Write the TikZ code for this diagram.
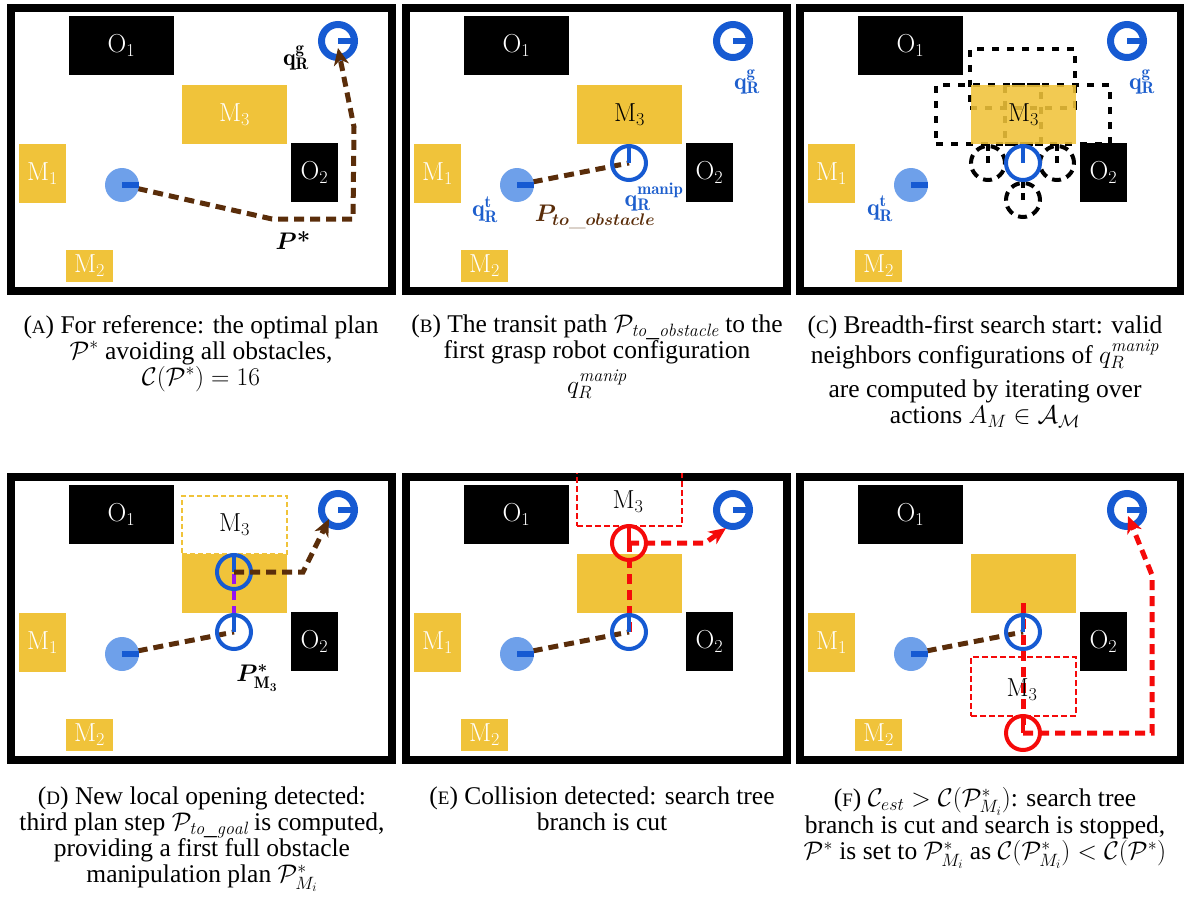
\RequirePackage{fix-cm}
\documentclass[tikz,border=0pt]{standalone}
\usepackage{fontspec}
\newfontfamily\capserif{Liberation Serif}
\usepackage{tikz}
\usetikzlibrary{arrows.meta}

\definecolor{myyellow}{RGB}{240,195,58}
\definecolor{robotblue}{RGB}{22,90,210}
\definecolor{startblue}{RGB}{110,160,234}
\definecolor{pathbrown}{RGB}{90,45,10}
\definecolor{labelblue}{RGB}{30,95,205}
\definecolor{mypurple}{RGB}{150,20,240}
\definecolor{myred}{RGB}{245,10,10}

\newcommand\capfont{\capserif\fontsize{25.5}{26}\selectfont}
\newcommand\capsc[1]{{\fontsize{19}{19}\selectfont #1}}
\newcommand\boxfont{\fontsize{26}{26}\selectfont}

\tikzset{
  panelframe/.style={draw=black, line width=8pt},
  boxbase/.style={inner sep=0pt, minimum height=59pt, font=\boxfont},
  obox/.style={boxbase, fill=black, text=white, minimum width=105pt},
  ybox/.style={boxbase, fill=myyellow, text=white},
  goalc/.style={circle, draw=robotblue, line width=7pt, minimum size=33pt, inner sep=0pt},
  robotc/.style={circle, draw=robotblue, line width=4pt, minimum size=34pt, inner sep=0pt},
  redc/.style={robotc, draw=myred},
  startc/.style={circle, fill=startblue, minimum size=34pt, inner sep=0pt},
  gbar/.style={draw=robotblue, line width=6pt},
  rbar/.style={draw=robotblue, line width=4pt},
  redbar/.style={draw=myred, line width=4pt},
  sbar/.style={draw=robotblue, line width=6pt},
  bpath/.style={draw=pathbrown, line width=5pt, dash pattern=on 10pt off 6pt},
  rpath/.style={draw=myred, line width=5pt, dash pattern=on 10pt off 6pt},
  ppath/.style={draw=mypurple, line width=4pt, dash pattern=on 10pt off 6pt},
  arrtip/.style={-{Stealth[length=17pt,width=15pt,inset=5pt]}},
  nbox/.style={draw=black, line width=4pt, dash pattern=on 7pt off 8pt, minimum width=105pt, minimum height=59pt, inner sep=0pt},
  ncirc/.style={circle, draw=black, line width=4pt, dash pattern=on 9pt off 6pt, minimum size=34pt, inner sep=0pt},
  nbar/.style={draw=black, line width=4pt, dash pattern=on 7pt off 5pt},
  ghostbox/.style={draw=myyellow, line width=2pt, dash pattern=on 5pt off 3pt, fill=white, minimum width=105pt, minimum height=58pt, inner sep=0pt, font=\boxfont},
  redbox/.style={draw=myred, line width=2pt, dash pattern=on 6pt off 3pt, minimum width=105pt, minimum height=59pt, inner sep=0pt},
  boxlab/.style={inner sep=1pt, font=\boxfont, text=black},
  qlab/.style={text=labelblue, font=\fontsize{24}{24}\selectfont, inner sep=0pt},
  plab/.style={font=\fontsize{24}{24}\selectfont, inner sep=0pt},
  capnode/.style={anchor=north, align=center, inner sep=0pt, font=\capfont},
}

% #1 prefix, #2 M3 label, #3 extra style for M3
\newcommand\basescene[3]{%
  \draw[panelframe] (4,4) rectangle (385,287);
  \node[obox] (#1O1) at (114.5,41.5) {O$_1$};
  \node[obox, minimum width=47pt] (#1O2) at (307.5,168.5) {O$_2$};
  \node[ybox, minimum width=47pt] (#1M1) at (35.5,169.5) {M$_1$};
  \node[ybox, minimum width=47pt, minimum height=32pt] (#1M2) at (82.5,262) {M$_2$};
  \node[ybox, minimum width=105pt, #3] (#1M3) at (227.5,110.5) {#2};
  \node[goalc] (#1g) at (331,37) {};
  \draw[gbar] (#1g.center) -- (#1g.east);
  \coordinate (#1s) at (115,181);
  \coordinate (#1mc) at (227,159);
}
\newcommand\startrobot[1]{%
  \node[startc] (#1sn) at (#1s) {};
  \draw[sbar] (#1sn.center) -- (#1sn.east);
}
\newcommand\maniprobot[1]{%
  \node[robotc] (#1m) at (#1mc) {};
  \draw[rbar] (#1m.center) -- (#1m.north);
}

\begin{document}
\begin{tikzpicture}[x=1pt, y=-1pt]
\useasboundingbox (0,0) rectangle (1184,899);

%%%%%%%%%%%%%%%% Panel A
\begin{scope}[shift={(7,4)}]
  \basescene{A}{M$_3$}{}
  \coordinate (Ap1) at (265,215);
  \coordinate (Ap2) at (346,215);
  \coordinate (Ap3) at (347,123);
  \coordinate (Ae) at (331,44);
  \draw[bpath, arrtip] (As) -- (Ap1) -- (Ap2) -- (Ap3) -- (Ae);
  \startrobot{A}
  \node[plab] (Aqg) at (289,54) {$\mathbf{q}^{\mathbf{g}}_{\mathbf{R}}$};
  \node[plab] (APs) at (286,236) {{\boldmath$P$}\textbf{*}};
\end{scope}

%%%%%%%%%%%%%%%% Panel B
\begin{scope}[shift={(402,4)}]
  \basescene{B}{\color{black}M$_3$}{}
  \draw[bpath] (Bs) -- (Bmc);
  \startrobot{B}
  \maniprobot{B}
  \node[qlab] (Bqt) at (83,206) {$\mathbf{q}^{\mathbf{t}}_{\mathbf{R}}$};
  \node[qlab] (Bqm) at (252,193) {$\mathbf{q}^{\mathbf{manip}}_{\mathbf{R}}$};
  \node[qlab] (Bqg) at (345,78) {$\mathbf{q}^{\mathbf{g}}_{\mathbf{R}}$};
  \node[plab, text=pathbrown] (BPt) at (193,213) {{\boldmath$P_{to\_obstacle}$}};
\end{scope}

%%%%%%%%%%%%%%%% Panel C
\begin{scope}[shift={(796,4)}]
  \node[nbox] (Cup) at (226.5,74.5) {};
  \node[nbox] (Cleft) at (192.5,110.5) {};
  \node[nbox] (Cright) at (261.5,110.5) {};
  \basescene{C}{\color{black}M$_3$}{fill opacity=0.88, text opacity=1}
  \node[ncirc] (Cn1) at (192,159) {};
  \node[ncirc] (Cn2) at (261,159) {};
  \node[ncirc] (Cn3) at (227,196) {};
  \draw[nbar] (Cn1.center) -- (Cn1.north);
  \draw[nbar] (Cn2.center) -- (Cn2.north);
  \draw[nbar] (Cn3.center) -- (Cn3.north);
  \startrobot{C}
  \maniprobot{C}
  \node[qlab] (Cqt) at (84,205) {$\mathbf{q}^{\mathbf{t}}_{\mathbf{R}}$};
  \node[qlab] (Cqg) at (346,78) {$\mathbf{q}^{\mathbf{g}}_{\mathbf{R}}$};
\end{scope}

%%%%%%%%%%%%%%%% Panel D
\begin{scope}[shift={(7,473)}]
  \basescene{D}{}{}
  \node[ghostbox] (Dghost) at (227.5,52) {M$_3$};
  \coordinate (Duc) at (227,99);
  \coordinate (Dp1) at (296,99);
  \coordinate (De) at (322,46);
  \draw[bpath] (Ds) -- (Dmc);
  \draw[ppath] (Dmc) -- (Duc);
  \startrobot{D}
  \maniprobot{D}
  \node[robotc] (Du) at (Duc) {};
  \draw[rbar] (Du.center) -- (Du.north);
  \draw[bpath, arrtip] (Du.center) -- (Dp1) -- (De);
  \node[plab] (DPs) at (250,205) {{\boldmath$P^{*}_{\mathrm{M}_3}$}};
\end{scope}

%%%%%%%%%%%%%%%% Panel E
\begin{scope}[shift={(402,473)}]
  \basescene{E}{}{}
  \coordinate (Erc) at (227,70);
  \coordinate (Ep1) at (303,70);
  \coordinate (Ee) at (324,55);
  \draw[rpath] (Emc) -- (Erc);
  \draw[bpath] (Es) -- (Emc);
  \startrobot{E}
  \maniprobot{E}
  \node[redc] (Er) at (Erc) {};
  \draw[redbar] (Er.center) -- (Er.north);
  \draw[rpath, arrtip] (Er.center) -- (Ep1) -- (Ee);
  \begin{scope}
    \clip (0,0) rectangle (389,291);
    \node[redbox] (Ebox) at (227.5,23.5) {};
  \end{scope}
  \node[boxlab] (Elab) at (226,29) {M$_3$};
\end{scope}

%%%%%%%%%%%%%%%% Panel F
\begin{scope}[shift={(796,473)}]
  \basescene{F}{}{}
  \coordinate (Ftop) at (227,130);
  \coordinate (Frc) at (227,260);
  \coordinate (Fp1) at (356,260);
  \coordinate (Fp2) at (356,102);
  \coordinate (Fe) at (332,43);
  \draw[rpath] (Ftop) -- (Frc);
  \draw[bpath] (Fs) -- (Fmc);
  \startrobot{F}
  \maniprobot{F}
  \node[redbox] (Fbox) at (227.5,213.5) {};
  \node[boxlab] (Flab) at (226,217) {M$_3$};
  \node[redc] (Fr) at (Frc) {};
  \draw[redbar] (Fr.center) -- (Fr.north);
  \draw[rpath, arrtip] (Fr.center) -- (Fp1) -- (Fp2) -- (Fe);
\end{scope}

%%%%%%%%%%%%%%%% Captions
\node[capnode] (capA) at (201,315) {(\capsc{A}) For reference: the optimal plan\\
  $\mathcal{P}^*$ avoiding all obstacles,\\
  $\mathcal{C}(\mathcal{P}^*) = 16$};
\node[capnode] (capB) at (597,315) {(\capsc{B}) The transit path $\mathcal{P}_{\mathit{to\_obstacle}}$ to the\\
  first grasp robot configuration\\[4pt]
  $q_R^{\mathit{manip}}$};
\node[capnode] (capC) at (985,315) {(\capsc{C}) Breadth-first search start: valid\\
  neighbors configurations of $q_R^{\mathit{manip}}$\\[8pt]
  are computed by iterating over\\
  actions $A_M \in \mathcal{A}_{\mathcal{M}}$};
\node[capnode] (capD) at (202,787) {(\capsc{D}) New local opening detected:\\
  third plan step $\mathcal{P}_{\mathit{to\_goal}}$ is computed,\\
  providing a first full obstacle\\
  manipulation plan $\mathcal{P}^*_{M_i}$};
\node[capnode] (capE) at (602,787) {(\capsc{E}) Collision detected: search tree\\
  branch is cut};
\node[capnode] (capF) at (985,787) {(\capsc{F}) $\mathcal{C}_{est} > \mathcal{C}(\mathcal{P}^*_{M_i})$: search tree\\
  branch is cut and search is stopped,\\
  $\mathcal{P}^*$ is set to $\mathcal{P}^*_{M_i}$ as $\mathcal{C}(\mathcal{P}^*_{M_i}) < \mathcal{C}(\mathcal{P}^*)$};
\end{tikzpicture}
\end{document}
